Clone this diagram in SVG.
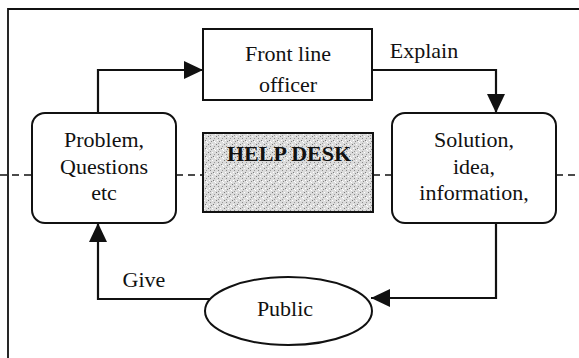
<svg xmlns="http://www.w3.org/2000/svg" width="579" height="358" viewBox="0 0 579 358">
  <style>
    .box { fill: #ffffff; stroke: #111111; stroke-width: 2; }
    .lbl { font-family: "Liberation Serif", "Times New Roman", serif; font-size: 22px; fill: #111111; text-anchor: middle; }
    .conn { fill: none; stroke: #111111; stroke-width: 2.2; }
    .frame { fill: none; stroke: #111111; stroke-width: 1.8; }
    .dash { fill: none; stroke: #111111; stroke-width: 1.4; stroke-dasharray: 7 5; }
  </style>
  <defs>
    <marker id="arrow" markerUnits="userSpaceOnUse" markerWidth="20" markerHeight="18" refX="19" refY="9" orient="auto">
      <path d="M0,0 L19,9 L0,18 z" fill="#111111"/>
    </marker>
    <pattern id="texture" patternUnits="userSpaceOnUse" width="8" height="8">
      <rect width="8" height="8" fill="#dcdcdc"/>
      <rect x="0" y="0" width="1" height="1" fill="#7a7a7a"/>
      <rect x="2" y="2" width="1" height="1" fill="#8a8a8a"/>
      <rect x="4" y="0" width="1" height="1" fill="#ffffff"/>
      <rect x="6" y="2" width="1" height="1" fill="#9a9a9a"/>
      <rect x="1" y="4" width="1" height="1" fill="#ffffff"/>
      <rect x="3" y="5" width="1" height="1" fill="#8a8a8a"/>
      <rect x="5" y="4" width="1" height="1" fill="#7a7a7a"/>
      <rect x="7" y="6" width="1" height="1" fill="#ffffff"/>
      <rect x="2" y="7" width="1" height="1" fill="#9a9a9a"/>
      <rect x="6" y="5" width="1" height="1" fill="#ffffff"/>
    </pattern>
  </defs>
  <rect width="579" height="358" fill="#ffffff"/>

  <!-- outer frame -->
  <path class="frame" d="M8,358 V9 H579"/>

  <!-- dashed divider -->
  <g id="divider">
    <line class="dash" x1="0" y1="175" x2="32" y2="175"/>
    <line class="dash" x1="176" y1="175" x2="203" y2="175"/>
    <line class="dash" x1="373" y1="175" x2="392" y2="175"/>
    <line class="dash" x1="556" y1="175" x2="579" y2="175"/>
  </g>

  <g id="connectors">
    <path class="conn" d="M98,113 V70 H203" marker-end="url(#arrow)"/>
    <path class="conn" d="M372,70 H496 V113" marker-end="url(#arrow)"/>
    <path class="conn" d="M496,223 V298 H371" marker-end="url(#arrow)"/>
    <path class="conn" d="M210,299 H98 V223" marker-end="url(#arrow)"/>
    <text class="lbl" x="424" y="58">Explain</text>
    <text class="lbl" x="144" y="287">Give</text>
  </g>

  <g id="front-line-officer">
    <rect class="box" x="203" y="29" width="169" height="71"/>
    <text class="lbl" x="288" y="61">Front line</text>
    <text class="lbl" x="288" y="92">officer</text>
  </g>

  <g id="problem">
    <rect class="box" x="32" y="113" width="144" height="110" rx="13" ry="13"/>
    <text class="lbl" x="104" y="147">Problem,</text>
    <text class="lbl" x="104" y="174">Questions</text>
    <text class="lbl" x="104" y="200">etc</text>
  </g>

  <g id="help-desk">
    <rect x="203" y="133" width="170" height="79" fill="url(#texture)" stroke="#111111" stroke-width="2"/>
    <text class="lbl" x="289" y="161" font-weight="bold" font-size="21">HELP DESK</text>
  </g>

  <g id="solution">
    <rect class="box" x="392" y="113" width="164" height="110" rx="13" ry="13"/>
    <text class="lbl" x="474" y="147">Solution,</text>
    <text class="lbl" x="474" y="174">idea,</text>
    <text class="lbl" x="474" y="200">information,</text>
  </g>

  <g id="public">
    <ellipse class="box" cx="288.5" cy="311" rx="83.5" ry="34"/>
    <text class="lbl" x="285" y="316">Public</text>
  </g>
</svg>
